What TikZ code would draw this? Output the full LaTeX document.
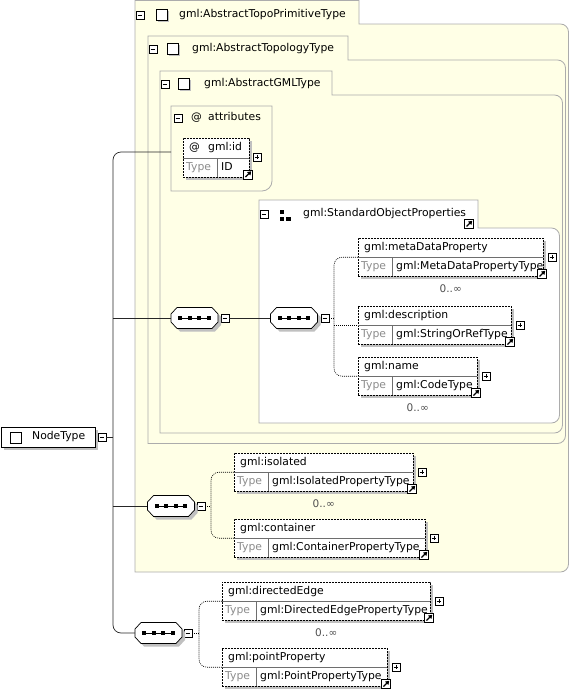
\documentclass[tikz,border=0pt]{standalone}
\usepackage{fontspec}
\setmainfont{DejaVu Sans}
\usetikzlibrary{positioning,shadows,arrows.meta}

\begin{document}
\begin{tikzpicture}[x=1pt, y=-1pt,
    font=\fontsize{10.8}{12}\selectfont,
    grpbox/.style={draw=grpline, fill=grpfill, line width=0.8pt},
    lbl/.style={inner sep=0pt, anchor=west, text height=7.5pt, text depth=2pt},
    shade/.style={drop shadow={shadow xshift=3pt, shadow yshift=-3pt, fill=shadegray, opacity=1}},
    elbox/.style={draw, dash pattern=on 2pt off 1pt, fill=white, anchor=north west,
        minimum height=38pt, inner sep=0pt, shade},
    rowline/.style={draw=rowgray, line width=0.5pt},
    seqbox/.style={minimum width=47pt, minimum height=21pt, inner sep=0pt},
    pmbox/.style={draw, fill=white, minimum size=8pt, inner sep=0pt, line width=0.5pt},
    minusbox/.style={pmbox, path picture={
        \draw ([xshift=1.6pt]path picture bounding box.west) -- ([xshift=-1.6pt]path picture bounding box.east);}},
    plusbox/.style={pmbox, path picture={
        \draw ([xshift=1.6pt]path picture bounding box.west) -- ([xshift=-1.6pt]path picture bounding box.east);
        \draw ([yshift=-1.6pt]path picture bounding box.north) -- ([yshift=1.6pt]path picture bounding box.south);}},
    linkbox/.style={draw, fill=white, minimum size=9pt, inner sep=0pt, line width=0.5pt, path picture={
        \draw[line width=1.3pt, -{Triangle[length=3.5pt,width=4.5pt]}]
            ([shift={(2pt,2pt)}]path picture bounding box.south west) -- ([shift={(-1.3pt,-1.3pt)}]path picture bounding box.north east);}},
    iconbox/.style={draw, fill=white, minimum size=11pt, inner sep=0pt, line width=0.6pt,
        drop shadow={shadow xshift=1pt, shadow yshift=-1pt, fill=shadegray, opacity=1}},
    conn/.style={draw=black!85, line width=0.7pt},
    dotconn/.style={draw=black, line width=0.6pt, dash pattern=on 1pt off 1pt},
    mult/.style={inner sep=0pt, text=multgray, font=\fontsize{10.5}{11}\selectfont}]

    % Define colors
    \definecolor{grpfill}{RGB}{255,255,230}
    \definecolor{grpline}{RGB}{172,172,172}
    \definecolor{shadegray}{RGB}{192,192,192}
    \definecolor{rowgray}{RGB}{110,110,110}
    \definecolor{typegray}{RGB}{140,140,140}
    \definecolor{multgray}{RGB}{80,80,80}

    \useasboundingbox (0,0) rectangle (570,691);

    % Type groups, outer to inner
    \path[grpbox] (135,572) -- (135,0.5) -- (359,0.5) -- (359,24) [rounded corners=8pt] -- (568.5,24)
        -- (568.5,572) [sharp corners] -- cycle;
    \path[grpbox] (148,443.5) -- (148,36) -- (348,36) -- (348,60) [rounded corners=8pt] -- (565.5,60)
        -- (565.5,443.5) [sharp corners] -- cycle;
    \path[grpbox] (160,433) -- (160,71) -- (332,71) -- (332,95) [rounded corners=8pt] -- (562.5,95)
        -- (562.5,433) [sharp corners] -- cycle;
    \path[grpbox, fill=white] (259,423) -- (259,200) -- (478,200) -- (478,228) [rounded corners=8pt] -- (559.5,228)
        -- (559.5,423) [sharp corners] -- cycle;
    \path[grpbox] (171,191) -- (171,106) -- (272,106) [rounded corners=10pt] -- (272,191) [sharp corners] -- cycle;

    % Group headers
    \foreach \mx/\ix/\tx/\hy/\ttl in {140/162/179/15/gml:AbstractTopoPrimitiveType,
        153/173/192/49/gml:AbstractTopologyType, 165/184/204/84/gml:AbstractGMLType} {
        \node[minusbox] at (\mx,\hy) {};
        \node[iconbox] at (\ix,\hy) {};
        \node[lbl] at (\tx,\hy) {\ttl};
    }
    \node[minusbox] at (178,118) {};
    \node[lbl] at (191,118) {@};
    \node[lbl] at (208,118) {attributes};
    \node[minusbox] at (264,214) {};
    \fill (280,210) rectangle ++(4,4);
    \fill (280,216.5) rectangle ++(4,4);
    \fill (286,216.5) rectangle ++(5,4);
    \node[lbl] at (303,214) {gml:StandardObjectProperties};
    \node[linkbox] at (469,224) {};

    % Attribute gml:id
    \node[elbox, minimum width=66pt, minimum height=39pt] (gid) at (183,138) {};
    \draw[rowline] (183,158) -- (249,158);
    \draw[rowline] (217,158) -- (217,177);
    \node[lbl] at (189,148) {@};
    \node[lbl] at (208,148) {gml:id};
    \node[lbl, text=typegray] at (186,167.5) {Type};
    \node[lbl] at (221,167.5) {ID};
    \node[plusbox] at (257,157) {};
    \node[linkbox] at (248,174.5) {};

    % Elements
    \foreach \nm/\x/\y/\w/\ttl/\typ in {
        meta/358/238/185/gml:metaDataProperty/gml:MetaDataPropertyType,
        desc/358/306/153/gml:description/gml:StringOrRefType,
        gname/358/357/119/gml:name/gml:CodeType,
        isol/234/453/179/gml:isolated/gml:IsolatedPropertyType,
        cont/234/519/191/gml:container/gml:ContainerPropertyType,
        dedge/222/582/208/gml:directedEdge/gml:DirectedEdgePropertyType,
        ppty/222/648/165/gml:pointProperty/gml:PointPropertyType} {
        \node[elbox, minimum width=\w pt] (\nm) at (\x,\y) {};
        \draw[rowline] (\nm.west) -- (\nm.east);
        \draw[rowline] (\x+34,\y+19) -- (\x+34,\y+38);
        \node[lbl] at (\x+6,\y+10) {\ttl};
        \node[lbl, text=typegray] at (\x+3,\y+28.5) {Type};
        \node[lbl] at (\x+38,\y+28.5) {\typ};
        \node[plusbox] at (\x+\w+9,\y+19) {};
        \node[linkbox] at (\x+\w-1,\y+36) {};
    }
    \foreach \nm in {meta,gname,isol,dedge}
        \node[mult, below=8pt of \nm] {0..∞};

    % Root type
    \node[draw, fill=white, anchor=north west, minimum width=94pt, minimum height=20pt, inner sep=0pt,
        line width=0.8pt, shade] (root) at (0.5,427) {};
    \node[iconbox] at (15.5,437.5) {};
    \node[lbl] at (32,437) {NodeType};
    \node[minusbox] (rootm) at (102,437) {};

    % Sequences
    \node[seqbox] (seq1) at (194.5,318) {};
    \node[seqbox] (seq2) at (294,318) {};
    \node[seqbox] (seq3) at (171,506) {};
    \node[seqbox] (seq4) at (158.5,633) {};
    \node[minusbox] (m1) at (225,318) {};
    \node[minusbox] (m2) at (325,318) {};
    \node[minusbox] (m3) at (201,506) {};
    \node[minusbox] (m4) at (188,633) {};
    \foreach \s in {seq1,seq2,seq3,seq4} {
        \begin{scope}[shift={(\s.center)}]
            \fill[shadegray] (-20.5,-1) -- (-14.5,-7.5) -- (20.5,-7.5) -- (26.5,-1) -- (26.5,7)
                -- (20.5,13.5) -- (-14.5,13.5) -- (-20.5,7) -- cycle;
            \filldraw[fill=white, line width=0.7pt] (-23.5,-4) -- (-17.5,-10.5) -- (17.5,-10.5) -- (23.5,-4)
                -- (23.5,4) -- (17.5,10.5) -- (-17.5,10.5) -- (-23.5,4) -- cycle;
            \draw[line width=0.8pt] (-14,0) -- (14,0);
            \foreach \dx in {-14.25,-4.75,4.75,14.25}
                \fill (\dx,0) +(-1.8,-1.8) rectangle +(1.8,1.8);
        \end{scope}
    }

    % Connectors
    \coordinate (trunk) at (113,437);
    \coordinate (attrin) at (171,152);
    \draw[conn] (rootm) -- (trunk);
    \draw[conn, rounded corners=8pt] (attrin) -| (trunk) |- (seq4.west);
    \draw[conn] (trunk |- seq1.west) -- (seq1.west);
    \draw[conn] (trunk |- seq3.west) -- (seq3.west);
    \draw[conn] (m1) -- (seq2);

    \coordinate (sp2) at (334,318);
    \coordinate (sp3) at (211,506);
    \coordinate (sp4) at (199,633);
    \draw[dotconn] (m2) -- (sp2);
    \draw[dotconn, rounded corners=8pt] (meta.west) -| (sp2) |- (gname.west);
    \draw[dotconn] (sp2 |- desc.west) -- (desc.west);
    \draw[dotconn] (m3) -- (sp3);
    \draw[dotconn, rounded corners=8pt] (isol.west) -| (sp3) |- (cont.west);
    \draw[dotconn] (m4) -- (sp4);
    \draw[dotconn, rounded corners=8pt] (dedge.west) -| (sp4) |- (ppty.west);
\end{tikzpicture}
\end{document}
